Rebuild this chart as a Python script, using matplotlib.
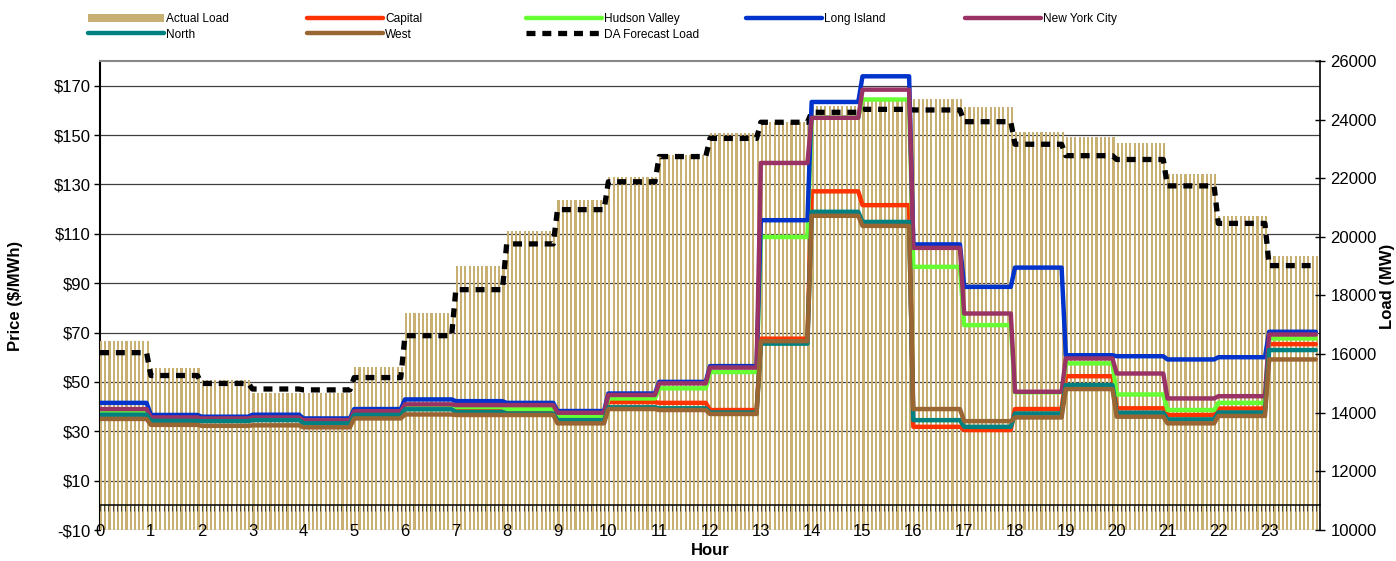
import numpy as np
import matplotlib
matplotlib.use('Agg')
import matplotlib.pyplot as plt
from matplotlib.ticker import FuncFormatter, MultipleLocator

plt.rcParams['font.family'] = ['Liberation Sans', 'DejaVu Sans']

hours = np.arange(24)

# load in MW, one value per hour
actual_load = [16450, 15530, 15120, 14680, 14680, 15560, 17400, 19010, 20200, 21260, 22040, 22800,
               23550, 23920, 24450, 24700, 24700, 24430, 23580, 23410, 23200, 22150, 20710, 19350]
da_forecast = [16050, 15270, 15000, 14810, 14780, 15200, 16630, 18200, 19760, 20930, 21880, 22740,
               23360, 23910, 24250, 24350, 24330, 23930, 23160, 22770, 22640, 21740, 20460, 19020]

# zone prices in $/MWh
capital = [38.3, 35.0, 34.6, 35.0, 33.8, 37.5, 39.5, 38.6, 37.9, 35.2, 41.8, 41.5,
           38.6, 67.5, 127.2, 121.6, 31.8, 30.5, 39.0, 52.3, 39.3, 36.6, 39.2, 65.3]
hudson_valley = [37.9, 35.3, 34.8, 35.3, 34.0, 37.8, 40.0, 39.8, 39.0, 36.2, 43.3, 47.4,
                 54.0, 108.7, 157.0, 164.4, 96.6, 73.0, 45.8, 57.5, 44.9, 38.6, 41.5, 67.6]
long_island = [41.5, 36.6, 35.9, 36.7, 35.2, 39.0, 42.9, 42.2, 41.5, 38.2, 45.3, 50.0,
               56.4, 115.5, 163.4, 173.8, 105.7, 88.5, 96.3, 60.8, 60.4, 59.1, 60.0, 70.3]
new_york_city = [39.0, 35.6, 35.2, 35.6, 34.5, 38.1, 40.9, 40.6, 40.6, 37.5, 44.7, 49.4,
                 55.8, 138.7, 157.0, 168.4, 104.3, 77.7, 46.0, 59.5, 53.4, 43.3, 44.2, 69.2]
north = [36.7, 34.2, 34.1, 34.5, 33.2, 36.6, 38.9, 37.8, 37.2, 34.5, 39.7, 39.3,
         37.6, 65.5, 118.9, 114.8, 34.5, 31.8, 37.2, 48.7, 37.5, 34.8, 37.6, 62.9]
west = [35.0, 32.6, 32.2, 32.4, 31.6, 35.2, 36.8, 36.6, 36.6, 33.2, 39.0, 38.6,
        37.0, 66.5, 117.3, 113.2, 39.0, 34.1, 35.6, 47.1, 35.9, 33.2, 36.2, 59.1]

zones = [('Capital', capital, '#FF3300'),
         ('Hudson Valley', hudson_valley, '#66FF33'),
         ('Long Island', long_island, '#0033CC'),
         ('New York City', new_york_city, '#993366'),
         ('North', north, '#008080'),
         ('West', west, '#996633')]

steps = 12  # 5 minute intervals
t = np.arange(24 * steps) / steps


def per_5min(values):
    return np.repeat(values, steps)


W, H = 1396, 561
fig = plt.figure(figsize=(W / 100, H / 100), dpi=100)
ax = fig.add_axes([100 / W, 31 / H, 1220 / W, 469 / H])
ax2 = ax.twinx()
ax3 = ax.twinx()
ax.set_zorder(1)
ax2.set_zorder(2)
ax3.set_zorder(3)
ax2.patch.set_visible(False)
ax3.patch.set_visible(False)

# load on right axis
bars = ax2.bar(t, per_5min(actual_load), width=1 / 24, align='edge', color='#C8AF72', label='Actual Load')
da_line, = ax2.plot(t, per_5min(da_forecast), color='black', lw=3.8, ls=(0, (1.7, 1.3)),
                    dash_capstyle='butt', label='DA Forecast Load')

# prices
lines = {}
for name, vals, col in zones:
    lines[name], = ax3.plot(t, per_5min(vals), color=col, lw=3.2, label=name,
                            solid_joinstyle='round', solid_capstyle='round')

for a in (ax, ax3):
    a.set_ylim(-10, 180)
ax2.set_ylim(10000, 26000)
ax.set_xlim(0, 24)

ax.set_yticks(np.arange(-10, 171, 20))
ax.yaxis.set_major_formatter(FuncFormatter(lambda v, p: f'-${-v:.0f}' if v < 0 else f'${v:.0f}'))
ax.tick_params(axis='y', direction='out', length=4, width=1, labelsize=12, pad=3)
ax.grid(axis='y', color='#404040', lw=0.9)
ax.set_axisbelow(True)
ax.tick_params(axis='x', labelbottom=False, length=0)

ax2.set_yticks(np.arange(10000, 26001, 2000))
ax2.tick_params(axis='y', direction='inout', length=7, width=1, labelsize=12, pad=4)

ax3.yaxis.set_visible(False)
ax3.xaxis.set_visible(True)
ax3.set_xticks(hours)
ax3.tick_params(axis='x', length=0, pad=-4.5, labelsize=12)
ax3.set_xlabel('Hour', fontweight='bold', fontsize=12)
ax3.xaxis.set_label_coords(0.5, -0.027)

# category axis at price zero with 5 minute ticks
sec = ax3.secondary_xaxis(10 / 190)
sec.xaxis.set_major_locator(MultipleLocator(1 / 12))
sec.tick_params(axis='x', direction='out', length=4.3, width=0.6, color='#333333', labelbottom=False)
sec.spines['bottom'].set_linewidth(1.1)

for s in ('bottom', 'right'):
    ax.spines[s].set_visible(False)
ax.spines['top'].set_color('#888888')
ax.spines['top'].set_linewidth(1.5)
ax.spines['left'].set_linewidth(1.5)
for s in ('top', 'left', 'bottom'):
    ax2.spines[s].set_visible(False)
ax2.spines['right'].set_linewidth(1.2)
for s in ax3.spines.values():
    s.set_visible(False)

ax.set_ylabel('Price ($/MWh)', fontweight='bold', fontsize=12)
ax.yaxis.set_label_coords(-77 / 1220, 0.5)
ax2.set_ylabel('Load (MW)', fontweight='bold', fontsize=12)
ax2.yaxis.set_label_coords(1280 / 1220, 0.52)

# legend, one block per column
columns = [([bars, lines['North']], ['Actual Load', 'North'], 88),
           ([lines['Capital'], lines['West']], ['Capital', 'West'], 307),
           ([lines['Hudson Valley'], da_line], ['Hudson Valley', 'DA Forecast Load'], 526),
           ([lines['Long Island']], ['Long Island'], 746),
           ([lines['New York City']], ['New York City'], 965)]
for hs, ls, xp in columns:
    fig.legend(hs, ls, loc='upper left', bbox_to_anchor=(xp / W, 1 - 13 / H), frameon=False,
               fontsize=8.6, handlelength=6.4, handletextpad=0.15, borderpad=0,
               borderaxespad=0, labelspacing=0.3)

fig.savefig('out.png', dpi=100)
